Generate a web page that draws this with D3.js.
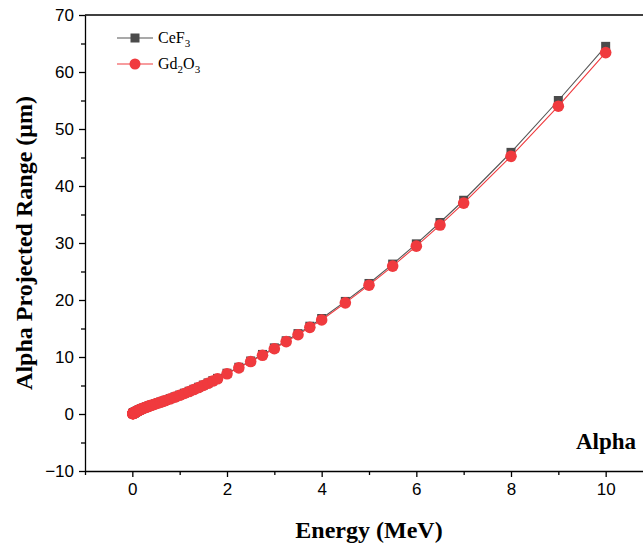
<!DOCTYPE html>
<html><head><meta charset="utf-8">
<script src="https://cdn.jsdelivr.net/npm/d3@7"></script>
<style>body{margin:0;background:#fff;}svg{display:block;}</style>
</head><body>
<svg id="c" width="643" height="546"></svg>
<script>
const energy = [0.01,0.011,0.012,0.013,0.014,0.015,0.016,0.017,0.018,0.02,0.0225,0.025,0.0275,0.03,0.0325,0.035,0.0375,0.04,0.045,0.05,0.055,0.06,0.065,0.07,0.08,0.09,0.1,0.11,0.12,0.13,0.14,0.15,0.16,0.17,0.18,0.2,0.225,0.25,0.275,0.3,0.325,0.35,0.375,0.4,0.45,0.5,0.55,0.6,0.65,0.7,0.8,0.9,1.0,1.1,1.2,1.3,1.4,1.5,1.6,1.7,1.8,2.0,2.25,2.5,2.75,3.0,3.25,3.5,3.75,4.0,4.5,5.0,5.5,6.0,6.5,7.0,8.0,9.0,10.0];
const rangeCeF3 = [0.075,0.08,0.085,0.09,0.095,0.10,0.105,0.11,0.115,0.125,0.14,0.15,0.165,0.18,0.19,0.205,0.22,0.23,0.26,0.28,0.31,0.33,0.355,0.38,0.42,0.47,0.51,0.56,0.60,0.64,0.68,0.72,0.76,0.80,0.84,0.91,1.00,1.08,1.16,1.24,1.32,1.40,1.47,1.54,1.68,1.82,1.96,2.10,2.24,2.39,2.69,3.00,3.32,3.65,3.99,4.34,4.70,5.07,5.45,5.85,6.25,7.15,8.2,9.3,10.45,11.6,12.85,14.1,15.4,16.75,19.75,22.9,26.3,29.85,33.6,37.5,45.9,55.0,64.5];
const rangeGd2O3 = [0.07,0.075,0.08,0.085,0.09,0.095,0.10,0.105,0.11,0.12,0.13,0.145,0.16,0.17,0.185,0.20,0.21,0.225,0.25,0.27,0.30,0.32,0.345,0.37,0.41,0.46,0.50,0.55,0.59,0.63,0.67,0.71,0.75,0.79,0.83,0.90,0.98,1.06,1.14,1.22,1.30,1.38,1.45,1.52,1.66,1.80,1.94,2.07,2.21,2.36,2.66,2.96,3.28,3.60,3.94,4.29,4.64,5.01,5.39,5.78,6.18,7.05,8.1,9.2,10.3,11.45,12.7,13.9,15.2,16.5,19.5,22.6,25.95,29.45,33.15,37.0,45.2,54.0,63.4];
const xTicks = [0,2,4,6,8,10];
const yTicks = [-10,0,10,20,30,40,50,60,70];
const seriesNames = ["CeF3","Gd2O3"];

const svg = d3.select("#c");
const L = 85, R = 653, T = 15, B = 471;
const x = d3.scaleLinear().domain([-1,11]).range([L,R]);
const y = d3.scaleLinear().domain([-10,70]).range([B,T]);

// frame
svg.append("line").attr("x1",L).attr("x2",R).attr("y1",T).attr("y2",T).attr("stroke","#000").attr("stroke-width",1.3);
svg.append("line").attr("x1",R).attr("x2",R).attr("y1",T).attr("y2",B).attr("stroke","#000").attr("stroke-width",1.3);

const tickFont = "'Liberation Sans', Arial, sans-serif";
// x axis
const xAx = svg.append("g").attr("transform",`translate(0,${B})`)
  .call(d3.axisBottom(x).tickValues(xTicks).tickSize(6).tickSizeOuter(0).tickPadding(6).tickFormat(d3.format("d")));
const xMinor = svg.append("g").attr("transform",`translate(0,${B})`)
  .call(d3.axisBottom(x).tickValues([-1,1,3,5,7,9]).tickSize(4).tickSizeOuter(0).tickFormat(""));
xMinor.select(".domain").remove();
// y axis
const yAx = svg.append("g").attr("transform",`translate(${L},0)`)
  .call(d3.axisLeft(y).tickValues(yTicks).tickSize(6).tickSizeOuter(0).tickPadding(5).tickFormat(d3.format("d")));
const yMinor = svg.append("g").attr("transform",`translate(${L},0)`)
  .call(d3.axisLeft(y).tickValues([-5,5,15,25,35,45,55,65]).tickSize(4).tickSizeOuter(0).tickFormat(""));
yMinor.select(".domain").remove();
[xAx,yAx,xMinor,yMinor].forEach(g=>{
  g.selectAll("path,line").attr("stroke","#000").attr("stroke-width",1.3);
  g.selectAll("text").attr("font-family",tickFont).attr("font-size",17).attr("fill","#000");
});

// titles
const titleFont = "'Liberation Serif','Times New Roman',serif";
svg.append("text").attr("x",369).attr("y",538).attr("text-anchor","middle")
  .attr("font-family",titleFont).attr("font-weight","bold").attr("font-size",24).text("Energy (MeV)");
svg.append("text").attr("transform",`translate(32,${(T+B)/2}) rotate(-90)`).attr("text-anchor","middle")
  .attr("font-family",titleFont).attr("font-weight","bold").attr("font-size",24).text("Alpha Projected Range (μm)");
svg.append("text").attr("x",636).attr("y",449).attr("text-anchor","end")
  .attr("font-family",titleFont).attr("font-weight","bold").attr("font-size",23).text("Alpha");

const ceData = energy.map((e,i)=>({e, r:rangeCeF3[i]}));
const gdData = energy.map((e,i)=>({e, r:rangeGd2O3[i]}));
const line = d3.line().x(d=>x(d.e)).y(d=>y(d.r));
const grayC = "#4b4b4b", lineGray = "#555", redC = "#f03a3e";

svg.append("path").datum(ceData).attr("d",line).attr("fill","none").attr("stroke",lineGray).attr("stroke-width",1.1);
svg.append("g").selectAll("rect").data(ceData).join("rect")
  .attr("x",d=>x(d.e)-4.5).attr("y",d=>y(d.r)-4.5).attr("width",9).attr("height",9).attr("fill",grayC);
svg.append("path").datum(gdData).attr("d",line).attr("fill","none").attr("stroke",redC).attr("stroke-width",1.1);
svg.append("g").selectAll("circle").data(gdData).join("circle")
  .attr("cx",d=>x(d.e)).attr("cy",d=>y(d.r)).attr("r",5.8).attr("fill",redC);

// legend
const lg = svg.append("g");
const legY = [38,64];
const legFont = titleFont;
lg.append("line").attr("x1",117).attr("x2",153).attr("y1",legY[0]).attr("y2",legY[0]).attr("stroke",lineGray).attr("stroke-width",1.1);
lg.append("rect").attr("x",135-4.5).attr("y",legY[0]-4.5).attr("width",9).attr("height",9).attr("fill",grayC);
lg.append("line").attr("x1",117).attr("x2",153).attr("y1",legY[1]).attr("y2",legY[1]).attr("stroke",redC).attr("stroke-width",1.1);
lg.append("circle").attr("cx",135).attr("cy",legY[1]).attr("r",5.5).attr("fill",redC);
const t1 = lg.append("text").attr("x",158).attr("y",legY[0]+5).attr("font-family",legFont).attr("font-size",16);
t1.append("tspan").text("CeF");
t1.append("tspan").attr("font-size",11).attr("dy",4).text("3");
const t2 = lg.append("text").attr("x",158).attr("y",legY[1]+5).attr("font-family",legFont).attr("font-size",16);
t2.append("tspan").text("Gd");
t2.append("tspan").attr("font-size",11).attr("dy",4).text("2");
t2.append("tspan").attr("dy",-4).text("O");
t2.append("tspan").attr("font-size",11).attr("dy",4).text("3");
</script>
</body></html>
